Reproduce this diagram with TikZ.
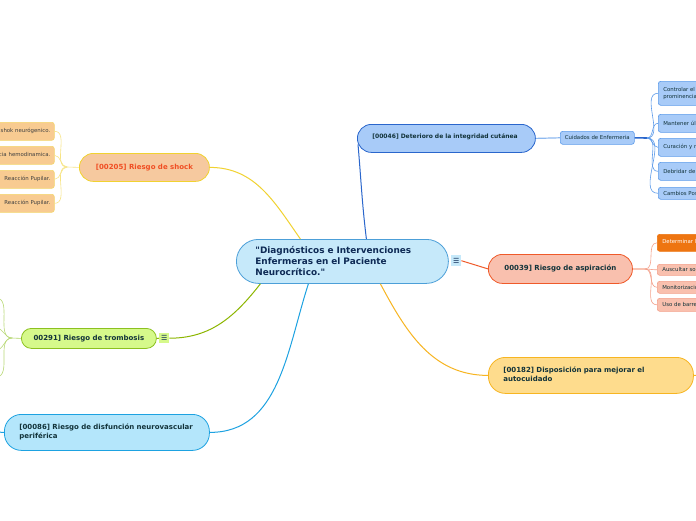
\documentclass[tikz,border=0pt]{standalone}
\usepackage{fontspec}
\setmainfont{DejaVu Sans}
\usetikzlibrary{calc}
\definecolor{cenfill}{HTML}{C6E9FA}
\definecolor{cendraw}{HTML}{4C9FD8}
\definecolor{navy}{HTML}{0E2A55}
\definecolor{dkgreen}{HTML}{12333A}
\definecolor{shockfill}{HTML}{F6C99F}
\definecolor{shockdraw}{HTML}{F1D230}
\definecolor{shocktext}{HTML}{F04E23}
\definecolor{scfill}{HTML}{F8CB91}
\definecolor{scdraw}{HTML}{F4D66B}
\definecolor{detfill}{HTML}{A8CBF8}
\definecolor{detdraw}{HTML}{2A66CC}
\definecolor{cuiddraw}{HTML}{5D9BEA}
\definecolor{aspfill}{HTML}{F9C0AE}
\definecolor{aspdraw}{HTML}{EF5A2A}
\definecolor{aspcdraw}{HTML}{F4A08A}
\definecolor{asporange}{HTML}{EE7511}
\definecolor{dispfill}{HTML}{FEDC8D}
\definecolor{dispdraw}{HTML}{F7B521}
\definecolor{tromfill}{HTML}{D6F98B}
\definecolor{tromdraw}{HTML}{8CC11F}
\definecolor{tromedge}{HTML}{8DB600}
\definecolor{disffill}{HTML}{B4E6FB}
\definecolor{disfdraw}{HTML}{1DA2E1}
\tikzset{
  box/.style={anchor=north west, inner ysep=0pt, line width=0.8pt},
  topic/.style={box, font=\fontsize{7}{9}\selectfont\bfseries, text=dkgreen},
  sub/.style={box, rounded corners=2.5pt, line width=0.6pt, font=\fontsize{5.4}{7}\selectfont, text=dkgreen, align=left},
  icon/.style={anchor=north west, inner sep=0pt, minimum width=10pt, minimum height=11pt, font=\fontsize{7}{7}\selectfont, text=navy},
}
\newcommand{\twolines}[2]{\raisebox{3pt}{\begin{tabular}{@{}l@{}}#1\\#2\end{tabular}}}
\begin{document}
\begin{tikzpicture}[x=1pt,y=-1pt]
\useasboundingbox (0,0) rectangle (696,520);
\fill[white] (0,0) rectangle (696,520);

% ---------- nodes ----------
\node[box, draw=cendraw, fill=cenfill, rounded corners=22pt, minimum width=212pt, minimum height=44pt,
      inner xsep=19pt, text width=174pt, align=left, text=navy,
      font=\fontsize{8.9}{11}\selectfont\bfseries] (central) at (236,239)
  {\textquotedbl Diagnósticos e Intervenciones\\Enfermeras en el Paciente\\Neurocrítico.\textquotedbl};
\node[icon, fill=cenfill] (cicon) at (451,255) {☰};

% shock
\node[topic, draw=shockdraw, fill=shockfill, rounded corners=14pt, minimum width=130pt, minimum height=28pt,
      text=shocktext] (shock) at (79,153) {\raisebox{2pt}{[00205] Riesgo de shock}};
\foreach \n/\y/\t in {s1/122/shok neurógenico., s2/146/cia hemodinamica., s3/170/Reacción Pupilar., s4/194/Reacción Pupilar.}{
  \node[sub, draw=scdraw, fill=scfill, minimum width=100pt, minimum height=18pt, text width=92pt, align=right,
        text=black!75] (\n) at (-46,\y) {\raisebox{2pt}{\t}};
}

% deterioro
\node[topic, draw=detdraw, fill=detfill, rounded corners=14pt, minimum width=178pt, minimum height=28pt,
      inner xsep=15pt, text width=148pt, align=left, font=\fontsize{6}{7}\selectfont\bfseries] (det) at (357,124)
  {\raisebox{4pt}{[00046] Deterioro de la integridad cutánea}};
\node[sub, draw=cuiddraw, fill=detfill, minimum width=74pt, minimum height=13pt, inner xsep=3pt, align=center] (cuid) at (560,131) {Cuidados de Enfermeria};
\node[sub, draw=cuiddraw, fill=detfill, minimum width=60pt, minimum height=24pt, text width=50pt] (c1) at (658,81) {Controlar el\\prominencias};
\node[sub, draw=cuiddraw, fill=detfill, minimum width=60pt, minimum height=18pt, text width=50pt] (c2) at (658,114) {Mantener úl};
\node[sub, draw=cuiddraw, fill=detfill, minimum width=60pt, minimum height=18pt, text width=50pt] (c3) at (658,138) {Curación y r};
\node[sub, draw=cuiddraw, fill=detfill, minimum width=60pt, minimum height=18pt, text width=50pt] (c4) at (658,162) {Debridar de};
\node[sub, draw=cuiddraw, fill=detfill, minimum width=60pt, minimum height=12pt, text width=50pt] (c5) at (658,187) {Cambios Pos};

% aspiracion
\node[topic, draw=aspdraw, fill=aspfill, rounded corners=14pt, minimum width=144pt, minimum height=29pt] (asp) at (488,254)
  {\raisebox{2pt}{00039] Riesgo de aspiración}};
\node[sub, draw=asporange, fill=asporange, text=white, minimum width=60pt, minimum height=17pt, text width=50pt] (a1) at (657,234) {\raisebox{2pt}{Determinar l}};
\node[sub, draw=aspcdraw, fill=aspfill, minimum width=60pt, minimum height=11pt, text width=50pt] (a2) at (657,264) {Auscultar so};
\node[sub, draw=aspcdraw, fill=aspfill, minimum width=60pt, minimum height=12pt, text width=50pt] (a3) at (657,281) {Monitorizació};
\node[sub, draw=aspcdraw, fill=aspfill, minimum width=60pt, minimum height=13pt, text width=50pt] (a4) at (657,298) {Uso de barre};

% disposicion
\node[topic, draw=dispdraw, fill=dispfill, rounded corners=17pt, minimum width=205pt, minimum height=36pt,
      inner xsep=15pt, text width=175pt, align=left] (disp) at (488,357)
  {\twolines{[00182] Disposición para mejorar el}{autocuidado}};
\coordinate (dispout) at (700,375);

% trombosis
\node[topic, draw=tromdraw, fill=tromfill, rounded corners=10pt, minimum width=135pt, minimum height=20pt] (trom) at (21,328)
  {00291] Riesgo de trombosis};
\node[icon, fill=tromfill, minimum height=10pt] (ticon) at (159,333) {☰};
\coordinate (tj) at (12,338);
\coordinate (t1) at (-4,298);
\coordinate (t2) at (-4,328);
\coordinate (t3) at (-4,350);
\coordinate (t4) at (-4,377);

% disfuncion
\node[topic, draw=disfdraw, fill=disffill, rounded corners=17pt, minimum width=205pt, minimum height=36pt,
      inner xsep=15pt, text width=175pt, align=left] (disf) at (4,414)
  {\twolines{[00086] Riesgo de disfunción neurovascular}{periférica}};
\coordinate (disfout) at (-4,432);

% ---------- connectors ----------
\draw[shockdraw, line width=1pt] (shock.east) to[out=0,in=125] ($(central.north)+(-42,0)$);
\draw[detdraw, line width=1pt] ($(central.north)+(24,0)$) to[out=97,in=-85] ($(det.west)+(1,6)$);
\draw[dispdraw, line width=1pt] ($(central.south)+(38,0)$) to[out=-62,in=180] (disp.west);
\draw[disfdraw, line width=1pt] ($(central.south)+(-34,0)$) to[out=-108,in=0] (disf.east);
\draw[tromedge, line width=1pt] (ticon.east) to[out=0,in=-128] ($(central.south)+(-82,0)$);
\draw[tromedge, line width=1pt] (trom.east) -- (ticon.west);
\draw[aspdraw, line width=1pt] (cicon.east) -- (asp.west);
\draw[dispdraw, line width=1pt] (disp.east) -- (dispout);
\draw[disfdraw, line width=1pt] (disf.west) -- (disfout);

% shock children
\coordinate (sj) at (67,167);
\draw[shockdraw!60, line width=0.6pt] (shock.west) -- (sj);
\foreach \n in {s1,s2,s3,s4}{
  \draw[shockdraw!60, line width=0.6pt] (sj) to[out=180,in=0] (\n.east);
}
% trombosis children
\draw[tromdraw!70, line width=0.6pt] (trom.west) -- (tj);
\foreach \n in {t1,t2,t3,t4}{
  \draw[tromdraw!60, line width=0.6pt] (tj) to[out=180,in=0] (\n);
}
% deterioro -> cuidados
\draw[cuiddraw!70, line width=1.2pt] (det.east) -- (cuid.west);
\coordinate (cj) at (647,138);
\draw[detdraw, line width=1.6pt] (cuid.east) -- (cj);
\foreach \n in {c1,c2,c3,c4,c5}{
  \draw[cuiddraw, line width=0.6pt] (cj) to[out=0,in=180] (\n.west);
}
% aspiracion children
\coordinate (aj) at (645,269);
\draw[aspdraw, line width=0.8pt] (asp.east) -- (aj);
\foreach \n in {a1,a2,a3,a4}{
  \draw[aspcdraw, line width=0.6pt] (aj) to[out=0,in=180] (\n.west);
}
\end{tikzpicture}
\end{document}
